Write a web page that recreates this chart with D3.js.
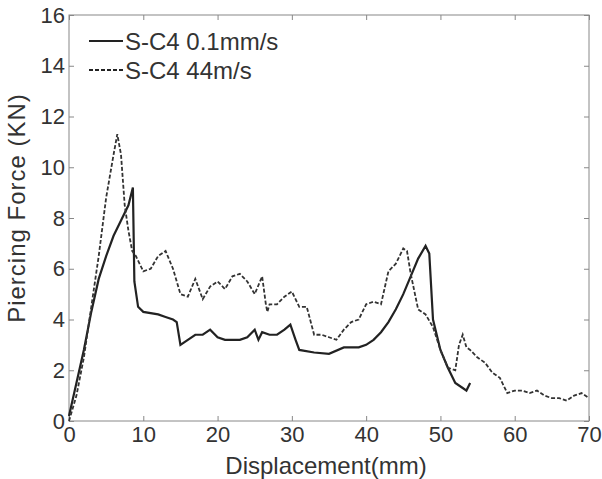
<!DOCTYPE html>
<html><head><meta charset="utf-8">
<script src="https://cdn.jsdelivr.net/npm/d3@7"></script>
<style>body{margin:0;background:#fff}text{font-family:"Liberation Sans",Arial,sans-serif;fill:#333}</style>
</head><body><svg id="c" width="602" height="479"></svg>
<script>
const slowX=[0,1,2,3,4,5,6,7,8,8.6,8.8,9.3,10,12,13,14,14.5,15,16,17,18,19,20,21,22,23,24,25,25.5,26,27,28,29,29.8,30.5,31,33,35,37,39,40,41,42,43,44,45,46,47,48,48.5,49,50,51,52,53,53.5,54];
const slowY=[0.2,1.5,2.8,4.3,5.6,6.5,7.3,7.9,8.5,9.2,5.5,4.5,4.3,4.2,4.1,4.0,3.9,3.0,3.2,3.4,3.4,3.6,3.3,3.2,3.2,3.2,3.3,3.6,3.2,3.5,3.4,3.4,3.6,3.8,3.2,2.8,2.7,2.65,2.9,2.9,3.0,3.2,3.5,3.9,4.4,5.0,5.7,6.4,6.9,6.6,4.0,2.8,2.1,1.5,1.3,1.2,1.5];
const fastX=[0,1,2,3,4,5,6,6.5,7,7.5,8,8.5,9,10,11,12,13,14,15,16,17,18,19,20,21,22,23,24,25,26,26.5,26.7,27,28,29,30,31,32,33,34,35,36,37,38,39,40,41,42,43,44,45,45.5,46,47,48,49,50,51,52,52.5,53,53.5,54,55,56,57,58,59,60,61,62,63,64,65,66,67,68,69,70];
const fastY=[0,1,2.5,4.5,6.5,8.8,10.5,11.3,10.5,8.5,7.5,6.7,6.5,5.9,6.0,6.5,6.7,6.0,5.0,4.9,5.6,4.8,5.3,5.5,5.2,5.7,5.8,5.5,5.0,5.7,4.6,4.3,4.6,4.6,4.9,5.1,4.5,4.5,3.4,3.4,3.3,3.2,3.6,3.9,4.0,4.6,4.7,4.6,5.9,6.2,6.8,6.7,5.8,4.4,4.2,3.7,2.8,2.1,2.0,3.0,3.4,2.9,2.8,2.5,2.3,1.9,1.7,1.1,1.2,1.2,1.1,1.2,1.0,0.9,0.9,0.8,1.0,1.1,0.9];
const xTicks=d3.range(0,71,10), yTicks=d3.range(0,17,2);
const L=69,R=589,T=15,B=421;
const svg=d3.select("#c");
const x=d3.scaleLinear([0,70],[L,R]), y=d3.scaleLinear([0,16],[B,T]);
svg.append("g").attr("transform",`translate(0,${B})`).call(d3.axisBottom(x).tickValues(xTicks).tickSizeInner(-5).tickSizeOuter(0).tickPadding(5))
  .call(g=>{g.select(".domain").remove();g.selectAll("text").attr("font-size",22);g.selectAll("line").attr("stroke","#888");});
svg.append("g").attr("transform",`translate(${L},0)`).call(d3.axisLeft(y).tickValues(yTicks).tickSizeInner(-5).tickSizeOuter(0).tickPadding(4))
  .call(g=>{g.select(".domain").remove();g.selectAll("text").attr("font-size",22);g.selectAll("line").attr("stroke","#888");});
svg.append("g").attr("transform",`translate(${R},0)`).call(d3.axisRight(y).tickValues(yTicks).tickSizeInner(-5).tickSizeOuter(0).tickFormat(""))
  .call(g=>{g.select(".domain").remove();g.selectAll("line").attr("stroke","#888");});
svg.append("g").attr("transform",`translate(0,${T})`).call(d3.axisTop(x).tickValues(xTicks).tickSizeInner(-5).tickSizeOuter(0).tickFormat(""))
  .call(g=>{g.select(".domain").remove();g.selectAll("line").attr("stroke","#888");});
svg.append("rect").attr("x",L).attr("y",T).attr("width",R-L).attr("height",B-T).attr("fill","none").attr("stroke","#888");
const line=d3.line().x(d=>x(d[0])).y(d=>y(d[1]));
svg.append("path").attr("d",line(d3.zip(slowX,slowY))).attr("fill","none").attr("stroke","#222").attr("stroke-width",2.2);
svg.append("path").attr("d",line(d3.zip(fastX,fastY))).attr("fill","none").attr("stroke","#333").attr("stroke-width",1.8).attr("stroke-dasharray","4,2");
const leg=[["S-C4 0.1mm/s",null,41],["S-C4 44m/s","4,2",70]];
leg.forEach(([t,da,yy])=>{
  svg.append("line").attr("x1",89).attr("x2",123).attr("y1",yy).attr("y2",yy).attr("stroke","#222").attr("stroke-width",2).attr("stroke-dasharray",da);
  svg.append("text").attr("x",125).attr("y",yy+9).attr("font-size",24).text(t);
});
svg.append("text").attr("x",326).attr("y",474).attr("text-anchor","middle").attr("font-size",24).text("Displacement(mm)");
svg.append("text").attr("transform",`translate(25,208) rotate(-90)`).attr("text-anchor","middle").attr("font-size",24).attr("letter-spacing",1).text("Piercing Force (KN)");
</script></body></html>
